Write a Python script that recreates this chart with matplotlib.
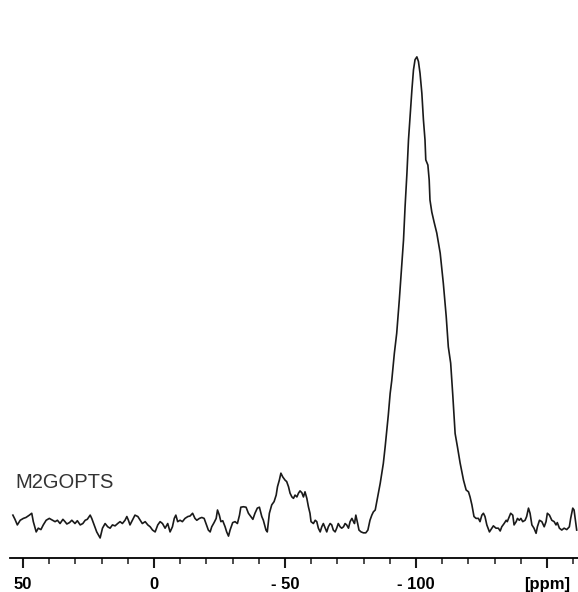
import matplotlib
matplotlib.use("Agg")
import matplotlib.pyplot as plt
from matplotlib.ticker import MultipleLocator

# chemical shift (ppm) and intensity (% of main peak)
ppm = [53.9, 53.1, 52.2, 51.1, 49.9, 48.9, 47.6, 46.7, 46.1, 45.0, 44.2, 43.2, 42.3, 41.2, 40.0,
       38.7, 37.8, 36.9, 35.9, 34.8, 34.0, 33.3, 32.3, 31.4, 30.2, 29.3, 28.2, 27.2, 26.3, 25.5,
       24.4, 23.8, 22.9, 21.9, 20.6, 19.7, 18.7, 17.7, 16.8, 15.9, 14.9, 13.9, 13.0, 12.1, 11.1,
       10.4, 9.8, 9.2, 8.3, 7.3, 6.2, 5.3, 4.5, 3.4, 2.4, 1.5, 0.6, -0.4, -1.4, -2.3,
       -3.2, -4.2, -5.2, -6.1, -7.0, -7.7, -8.3, -9.0, -9.9, -10.8, -11.8, -12.9, -13.7, -14.7, -15.6,
       -16.3, -17.3, -18.2, -19.1, -19.8, -20.7, -21.4, -22.0, -22.9, -23.7, -24.2, -24.9, -25.5, -26.2, -27.1,
       -27.7, -28.4, -29.0, -30.0, -30.9, -31.8, -32.6, -33.1, -34.1, -35.1, -36.0, -36.9, -37.7, -38.5, -39.4,
       -40.2, -41.1, -41.7, -42.7, -43.2, -44.0, -44.9, -45.8, -46.6, -47.1, -47.8, -48.4, -49.1, -50.0, -50.6,
       -51.3, -51.9, -52.6, -53.2, -53.8, -54.5, -55.1, -55.7, -56.4, -57.0, -57.6, -58.3, -58.9, -59.5, -59.9,
       -60.8, -61.5, -62.1, -62.7, -63.4, -64.0, -64.6, -65.3, -65.9, -66.5, -67.2, -67.8, -68.4, -69.1, -69.7,
       -70.3, -71.0, -71.6, -72.3, -72.9, -73.5, -74.2, -74.8, -75.5, -76.1, -76.5, -77.0, -77.7, -78.2, -79.0,
       -79.9, -80.8, -81.6, -82.4, -83.1, -83.7, -84.4, -85.0, -85.6, -86.3, -86.9, -87.5, -88.2, -89.4, -90.1,
       -90.7, -91.7, -92.6, -93.6, -94.5, -95.2, -95.8, -96.5, -97.1, -97.7, -98.4, -99.0, -99.6, -100.3, -100.9,
       -101.5, -102.2, -102.8, -103.4, -103.7, -104.5, -105.0, -105.3, -106.0, -106.9, -107.9, -109.2, -110.4, -111.5, -112.3,
       -113.2, -114.0, -114.9, -115.8, -116.8, -118.1, -119.1, -120.0, -120.6, -121.3, -122.1, -122.9, -123.8, -124.4, -125.1,
       -125.7, -126.3, -127.0, -128.0, -128.9, -129.5, -130.5, -131.4, -132.1, -132.7, -133.6, -134.4, -134.8, -135.6, -136.1,
       -136.9, -137.4, -138.2, -138.7, -139.4, -140.0, -140.7, -141.6, -142.2, -142.9, -143.5, -144.2, -145.0, -145.8, -146.3,
       -147.1, -148.0, -148.9, -149.6, -150.1, -150.9, -151.8, -152.7, -153.4, -153.9, -154.7, -155.6, -156.5, -157.5, -158.5,
       -159.0, -159.8, -160.3, -160.8, -161.3]
intensity = [1.7, 0.8, -0.4, 0.6, 1.0, 1.2, 1.7, 2.1, 0.3, -1.9, -1.1, -1.4, -0.4, 0.6, 1.0,
             0.6, 0.3, 0.6, -0.1, 0.8, 0.3, -0.2, 0.1, 0.6, -0.1, 0.5, -0.4, -0.1, 0.6, 0.8,
             1.7, 1.0, -0.4, -1.9, -3.2, -1.1, -0.1, -0.8, -1.1, -0.4, -0.6, -0.1, 0.3, -0.1, 0.6,
             1.4, 0.6, -0.4, 0.6, 1.7, 1.4, 0.6, -0.1, 0.3, -0.4, -0.8, -1.5, -1.9, -0.4, 0.3,
             -0.1, -1.1, -0.1, -1.9, -0.8, 1.0, 1.7, 0.3, 0.6, 0.3, 1.0, 1.4, 1.5, 2.1, 1.0,
             0.6, 1.0, 1.2, 1.0, -0.1, -1.5, -1.9, -0.8, 0.1, 1.0, 2.8, 1.7, 0.3, 0.5, -0.8,
             -1.9, -2.8, -1.5, 0.1, 0.3, -0.1, 1.7, 3.4, 3.5, 3.4, 2.1, 1.4, 0.8, 2.1, 3.2,
             3.4, 1.4, 0.6, -1.5, -1.9, 2.1, 3.9, 4.6, 6.0, 7.8, 9.2, 10.7, 9.9, 9.2, 8.9,
             7.8, 6.4, 5.6, 5.3, 6.0, 5.6, 6.4, 6.9, 6.5, 5.6, 6.7, 5.3, 3.5, 2.1, 0.3,
             -0.1, 0.6, 0.3, -1.1, -1.9, -0.8, -0.1, -1.1, -1.9, -0.8, -0.1, -0.4, -1.5, -1.9, -1.1,
             -0.1, -0.8, -1.1, -0.8, -0.1, -0.4, -1.1, 0.3, 1.0, 0.3, -0.1, 1.7, -0.1, -1.5, -1.9,
             -2.1, -2.1, -1.5, 0.6, 1.7, 2.4, 2.8, 4.6, 6.4, 8.5, 10.7, 12.8, 16.4, 23.2, 27.8,
             30.5, 36.4, 40.7, 47.9, 55.0, 60.7, 67.9, 75.0, 82.2, 87.2, 92.9, 97.2, 99.4, 100.0, 99.0,
             96.5, 92.2, 86.5, 82.2, 77.9, 76.8, 73.6, 69.3, 66.7, 64.5, 62.2, 57.9, 51.4, 44.3, 37.8,
             34.3, 27.5, 19.2, 16.3, 12.9, 9.2, 7.1, 6.7, 5.6, 3.9, 1.4, 1.0, 1.0, 0.3, 1.7,
             2.1, 1.4, -0.4, -1.9, -1.1, -0.6, -1.1, -1.1, -1.7, -0.8, -0.1, 0.6, 0.3, 1.4, 2.1,
             1.7, -0.4, 0.3, 1.0, 0.6, 1.0, 0.3, 0.6, 1.4, 3.2, 2.1, -0.4, -1.1, -2.2, -0.8,
             0.6, 0.3, -0.8, 0.3, 2.1, 1.7, 0.6, 0.3, -0.4, 0.1, -1.1, -1.5, -1.1, -1.4, -0.8,
             1.0, 3.2, 2.8, 0.6, -1.5]

major_ticks = [50, 0, -50, -100, -150]
major_labels = ["50", "0", "- 50", "- 100", "[ppm]"]
sample = "M2GOPTS"

fig = plt.figure(figsize=(5.78, 5.92), dpi=100)
ax = fig.add_axes([0.0173, 0.0574, 0.9827, 0.9426])

ax.plot(ppm, intensity, color="#1a1a1a", linewidth=1.2)
ax.set_xlim(55, -161.8)
ax.set_ylim(-7.5, 112.2)

for side in ["top", "left", "right"]:
    ax.spines[side].set_visible(False)
ax.spines["bottom"].set_linewidth(1.3)
ax.set_yticks([])

ax.set_xticks(major_ticks)
ax.set_xticklabels(major_labels, fontfamily="Liberation Sans", fontweight="bold", fontsize=12)
ax.xaxis.set_minor_locator(MultipleLocator(10))
ax.tick_params(axis="x", which="major", length=7.5, width=1.5, pad=6, color="#1a1a1a")
ax.tick_params(axis="x", which="minor", length=4.5, width=1.1, color="#1a1a1a")

ax.text(53.1, 7.5, sample, fontfamily="Liberation Sans", fontsize=14.5,
        color="#333333", va="baseline", ha="left")

fig.savefig("out.png", dpi=100)
